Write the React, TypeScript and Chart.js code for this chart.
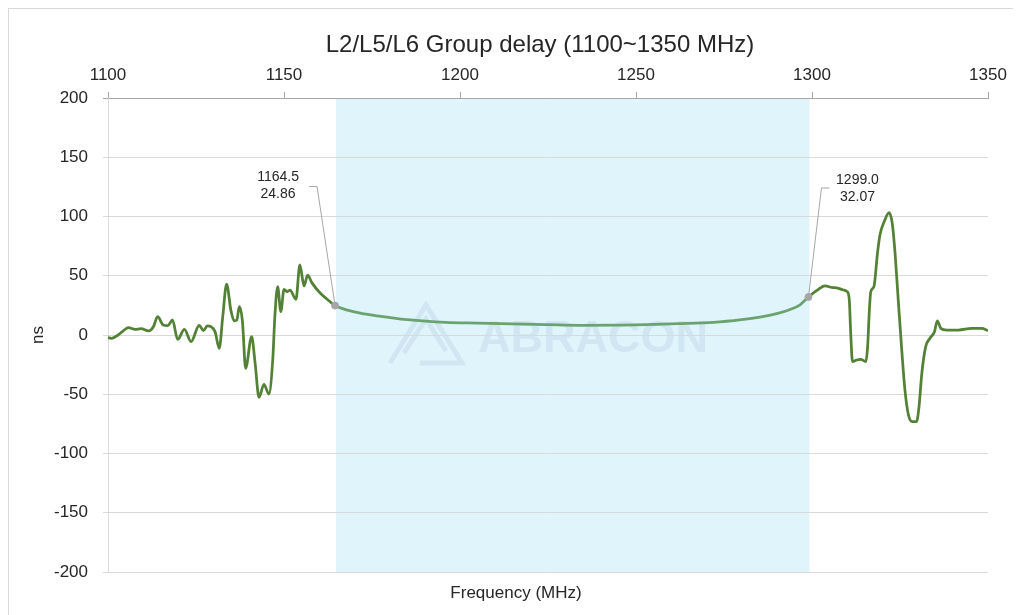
import React, { useEffect, useRef } from 'react';
import { Chart, registerables } from 'chart.js';

Chart.register(...registerables);

const TITLE = 'L2/L5/L6 Group delay (1100~1350 MHz)';
const X_TITLE = 'Frequency (MHz)';
const Y_TITLE = 'ns';
const WATERMARK = 'ABRACON';

const X_MIN = 1100;
const X_MAX = 1350;
const X_STEP = 50;
const Y_MIN = -200;
const Y_MAX = 200;
const Y_STEP = 50;

const BAND_START = 1164.5;
const BAND_END = 1299.0;

const MARKER_FREQ = [1164.5, 1299.0];
const MARKER_DELAY = [24.86, 32.07];
const MARKER_LABELS = [
  ['1164.5', '24.86'],
  ['1299.0', '32.07'],
];

const FREQ = [
  1100.0, 1101.0, 1102.9, 1104.5, 1105.8, 1107.7, 1109.4, 1111.5, 1112.9, 1114.1,
  1115.7, 1117.0, 1118.3, 1119.8, 1121.7, 1123.6, 1125.9, 1127.1, 1128.2, 1130.4,
  1131.6, 1132.6, 1133.7, 1134.9, 1135.8, 1136.6, 1137.3, 1138.2, 1139.1, 1140.8,
  1141.8, 1142.9, 1144.3, 1145.7, 1146.8, 1147.4, 1148.2, 1149.1, 1150.0, 1150.9,
  1151.7, 1153.4, 1154.5, 1155.7, 1156.7, 1157.9, 1160.2, 1163.1, 1164.5, 1170.0,
  1177.0, 1185.0, 1196.0, 1205.0, 1215.0, 1225.0, 1234.0, 1245.0, 1253.0, 1262.0,
  1272.0, 1280.0, 1286.0, 1290.0, 1293.8, 1296.6, 1299.0, 1301.3, 1303.7, 1305.6,
  1307.5, 1308.9, 1310.0, 1310.6, 1311.0, 1311.5, 1312.7, 1313.8, 1315.3, 1315.8,
  1316.3, 1316.7, 1317.6, 1318.6, 1319.3, 1320.7, 1321.9, 1322.8, 1323.6, 1324.5,
  1325.5, 1326.4, 1327.4, 1328.5, 1329.7, 1330.4, 1331.2, 1332.3, 1333.5, 1334.8,
  1335.6, 1336.6, 1338.3, 1341.6, 1345.4, 1348.2, 1350.0,
];

const DELAY = [
  -2.2, -2.8, 0, 4, 6.2, 4.8, 5.3, 3.4, 7, 15.5,
  8.4, 7.9, 12.7, -3.7, 4.8, -5.6, 8.2, 3.7, 7.6, 2.8,
  -11.2, 15.5, 43, 21, 12, 12.5, 23.9, 11.3, -28.1, -1.4,
  -23.9, -52.6, -41.6, -49.8, -21.1, 15.5, 40.8, 19.7, 38.5, 36.6,
  37.8, 30.1, 59.1, 41.4, 50.6, 44.2, 35.7, 28.1, 24.86, 19.5,
  16, 13, 10.7, 10, 9.3, 8.7, 8.2, 8.4, 8.7, 9.5,
  10.7, 13, 15.5, 18, 21.5, 25.5, 32.07, 37.4, 41.4, 40.2,
  39.4, 38, 36.6, 29.5, 1.4, -22.5, -21.1, -20.5, -22.5, -9.8,
  21.1, 36.6, 40.8, 68.9, 84.4, 97, 103.2, 94.2, 68.9, 29.5,
  -12.7, -46.4, -67.5, -73.1, -73.1, -60.5, -32.3, -9.8, -2.8, 2.8,
  12, 5.6, 4.2, 4.2, 5.6, 5.6, 3.7,
];

const FONT = '"Liberation Sans", Arial, sans-serif';
const LINE_DARK = '#538135';
const LINE_LIGHT = '#6BA36E';
const BAND_COLOR = '#E0F4FB';
const TEXT = '#262626';

const inBand = (v: number) => v >= BAND_START - 1e-6 && v <= BAND_END + 1e-6;

const decoPlugin = {
  id: 'deco',
  beforeDraw(chart: any) {
    const { ctx, chartArea: ca, scales } = chart;
    const xs = scales.x;
    const x0 = xs.getPixelForValue(BAND_START);
    const x1 = xs.getPixelForValue(BAND_END);
    ctx.save();
    ctx.fillStyle = BAND_COLOR;
    ctx.fillRect(x0 + 1, ca.top, x1 - x0, ca.bottom - ca.top);

    // watermark
    ctx.fillStyle = 'rgba(100,140,190,0.13)';
    ctx.strokeStyle = 'rgba(100,140,190,0.13)';
    ctx.font = `bold 45px ${FONT}`;
    ctx.textAlign = 'left';
    ctx.textBaseline = 'alphabetic';
    const wx = ca.left + 370;
    const wy = ca.top + 254;
    ctx.fillText(WATERMARK, wx, wy);
    // logo
    ctx.lineWidth = 5;
    ctx.lineJoin = 'miter';
    const lx = ca.left + 282;
    const ly = ca.top + 207;
    ctx.beginPath();
    ctx.moveTo(lx, ly + 58);
    ctx.lineTo(lx + 36, ly);
    ctx.lineTo(lx + 72, ly + 58);
    ctx.lineTo(lx + 30, ly + 58);
    ctx.stroke();
    ctx.beginPath();
    ctx.moveTo(lx + 14, ly + 48);
    ctx.lineTo(lx + 36, ly + 14);
    ctx.lineTo(lx + 56, ly + 46);
    ctx.stroke();
    ctx.restore();
  },
  afterDraw(chart: any) {
    const { ctx } = chart;
    ctx.save();
    ctx.fillStyle = TEXT;
    ctx.textAlign = 'center';
    ctx.textBaseline = 'middle';
    ctx.font = `24px ${FONT}`;
    ctx.fillText(TITLE, 531, 36);
    ctx.font = `17px ${FONT}`;
    ctx.fillText(X_TITLE, 507, 584);
    ctx.translate(29, 326);
    ctx.rotate(-Math.PI / 2);
    ctx.fillText(Y_TITLE, 0, 0);
    ctx.restore();
  },
  afterDatasetsDraw(chart: any) {
    const { ctx, scales } = chart;
    const xs = scales.x;
    const ys = scales.y;
    ctx.save();
    ctx.strokeStyle = '#A6A6A6';
    ctx.lineWidth = 1;
    ctx.font = `14px ${FONT}`;
    ctx.fillStyle = TEXT;
    ctx.textAlign = 'center';
    ctx.textBaseline = 'middle';
    MARKER_FREQ.forEach((f, i) => {
      const px = xs.getPixelForValue(f);
      const py = ys.getPixelForValue(MARKER_DELAY[i]);
      const left = i === 0;
      const elbowX = left ? px - 18 : px + 13;
      const elbowY = left ? py - 119 : py - 109;
      const endX = left ? elbowX - 8 : elbowX + 8;
      ctx.beginPath();
      ctx.moveTo(px, py);
      ctx.lineTo(elbowX, elbowY);
      ctx.lineTo(endX, elbowY);
      ctx.stroke();
      const cx = left ? px - 57 : px + 49;
      const ty = left ? py - 128 : py - 117;
      ctx.fillText(MARKER_LABELS[i][0], cx, ty);
      ctx.fillText(MARKER_LABELS[i][1], cx, ty + 17);
    });
    ctx.restore();
  },
};

export default function App() {
  const ref = useRef<HTMLCanvasElement | null>(null);

  useEffect(() => {
    if (!ref.current) return;
    const chart = new Chart(ref.current, {
      type: 'line',
      data: {
        datasets: [
          {
            label: 'markers',
            data: MARKER_FREQ.map((x, i) => ({ x, y: MARKER_DELAY[i] })),
            showLine: false,
            pointRadius: 3.5,
            pointBackgroundColor: '#A6A6A6',
            pointBorderColor: '#A6A6A6',
            order: 0,
          },
          {
            label: 'Group delay',
            data: FREQ.map((x, i) => ({ x, y: DELAY[i] })),
            borderColor: LINE_DARK,
            borderWidth: 2.75,
            pointRadius: 0,
            fill: false,
            cubicInterpolationMode: 'monotone',
            order: 1,
            segment: {
              borderColor: (c: any) =>
                inBand(c.p0.parsed.x) && inBand(c.p1.parsed.x) ? LINE_LIGHT : LINE_DARK,
            },
          },
        ],
      },
      options: {
        animation: false,
        responsive: false,
        layout: { padding: { left: 0, right: 29, top: 0, bottom: 57 } },
        plugins: {
          legend: { display: false },
          tooltip: { enabled: false },
          title: { display: false },
        },
        scales: {
          x: {
            type: 'linear',
            position: 'top',
            min: X_MIN,
            max: X_MAX,
            ticks: {
              stepSize: X_STEP,
              color: TEXT,
              font: { family: FONT, size: 17 },
              padding: 6,
              maxRotation: 0,
              callback: (v: any) => String(v),
            },
            grid: {
              drawOnChartArea: false,
              tickLength: 6,
              color: '#A6A6A6',
            },
            border: { display: true, color: '#A6A6A6', width: 1 },
            afterFit: (s: any) => {
              s.height = 89;
            },
          },
          y: {
            type: 'linear',
            min: Y_MIN,
            max: Y_MAX,
            ticks: {
              stepSize: Y_STEP,
              color: TEXT,
              font: { family: FONT, size: 17 },
              padding: 15,
              callback: (v: any) => String(v),
            },
            grid: {
              color: (c: any) => (c.tick && c.tick.value === Y_MAX ? '#A6A6A6' : '#D9D9D9'),
              tickLength: 5,
            },
            border: { display: true, color: '#D9D9D9', width: 1 },
            afterFit: (s: any) => {
              s.width = 99;
            },
          },
        },
      },
      plugins: [decoPlugin],
    } as any);
    return () => chart.destroy();
  }, []);

  return (
    <div
      style={{
        border: '1px solid #D9D9D9',
        width: 1008,
        height: 620,
        background: '#fff',
      }}
    >
      <canvas ref={ref} width={1008} height={620} style={{ display: 'block' }} />
    </div>
  );
}
